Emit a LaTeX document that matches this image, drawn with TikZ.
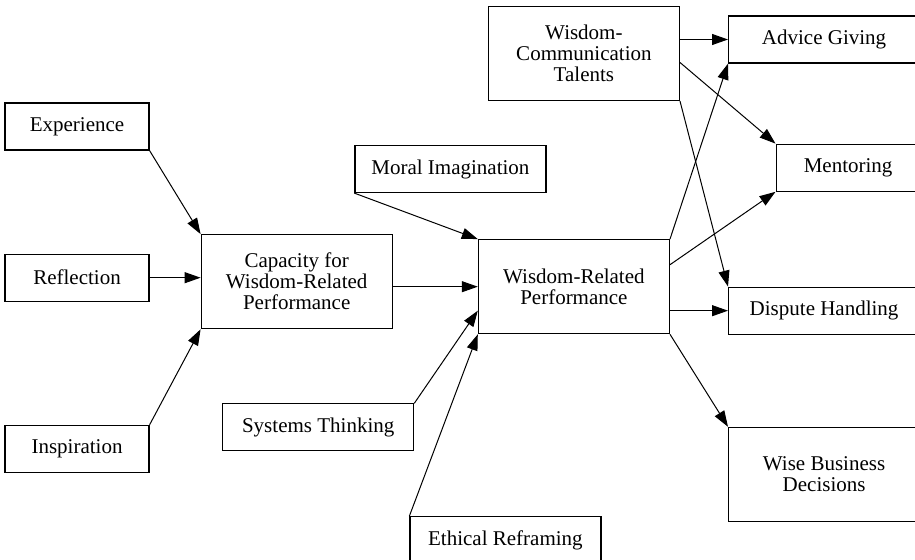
\documentclass[tikz,border=0pt]{standalone}
\usepackage{fontspec}
\setmainfont{Liberation Serif}
\usepackage{tikz}
\usetikzlibrary{arrows.meta}
\usetikzlibrary{positioning}

\tikzset{
  box/.style={draw, rectangle, line width=0.6pt, align=center, inner sep=0pt,
              font=\fontsize{10.5}{10.5}\selectfont},
  smallbox/.style={box, minimum width=72pt, minimum height=23.5pt},
  widebox/.style={box, minimum width=95.5pt, minimum height=23.5pt},
  bigbox/.style={box, minimum width=95.5pt, minimum height=47pt}
}

\begin{document}
\begin{tikzpicture}[->,>={Triangle[length=8pt,width=5.5pt]},line width=0.5pt]

\useasboundingbox (0,0) rectangle (457.5pt,-280pt);

% sources of capacity
\node[smallbox] (exp) at (38.5pt,-63.25pt) {Experience};
\node[smallbox] (ref) [below=51.5pt of exp] {Reflection};
\node[smallbox] (ins) [below=61.5pt of ref] {Inspiration};
\node[bigbox]   (cap) [right=25.5pt of ref, yshift=-2pt] {Capacity for\\Wisdom-Related\\Performance};

% performance and its inputs
\node[bigbox]   (wrp) [right=42.5pt of cap, yshift=-2.5pt] {Wisdom-Related\\Performance};
\node[widebox]  (mor) [above=23pt of wrp, xshift=-61.75pt] {Moral Imagination};
\node[widebox]  (sys) [below=37pt of cap, xshift=10.75pt] {Systems Thinking};
\node[widebox]  (eth) [below=91pt of wrp, xshift=-34.25pt] {Ethical Reframing};
\node[bigbox]   (wct) [above=69pt of wrp, xshift=5pt] {Wisdom-\\Communication\\Talents};

% outcomes
\node[widebox]  (adv) [right=24pt of wct, yshift=7pt] {Advice Giving};
\node[smallbox] (men) [below=40pt of adv, xshift=12pt] {Mentoring};
\node[widebox]  (dis) [right=29pt of wrp, yshift=-12pt] {Dispute Handling};
\node[bigbox]   (wbd) [below=46pt of dis] {Wise Business\\Decisions};

\path
  (exp.south east) edge (cap.north west)
  (ref.east) edge (ref.east -| cap.west)
  (ins.north east) edge (cap.south west)
  (wrp.west -| cap.east) edge (wrp.west)
  (mor.south west) edge (wrp.north west)
  (sys.north east) edge ([yshift=-12pt]wrp.west)
  (eth.north west) edge (wrp.south west)
  (wrp.north east) edge (adv.south west)
  ([yshift=11pt]wrp.east) edge (men.south west)
  (dis.west -| wrp.east) edge (dis.west)
  (wrp.south east) edge (wbd.north west)
  (adv.west -| wct.east) edge (adv.west)
  ([yshift=-4.5pt]wct.east) edge (men.north west)
  (wct.south east) edge (dis.north west)
  ;

\end{tikzpicture}
\end{document}
